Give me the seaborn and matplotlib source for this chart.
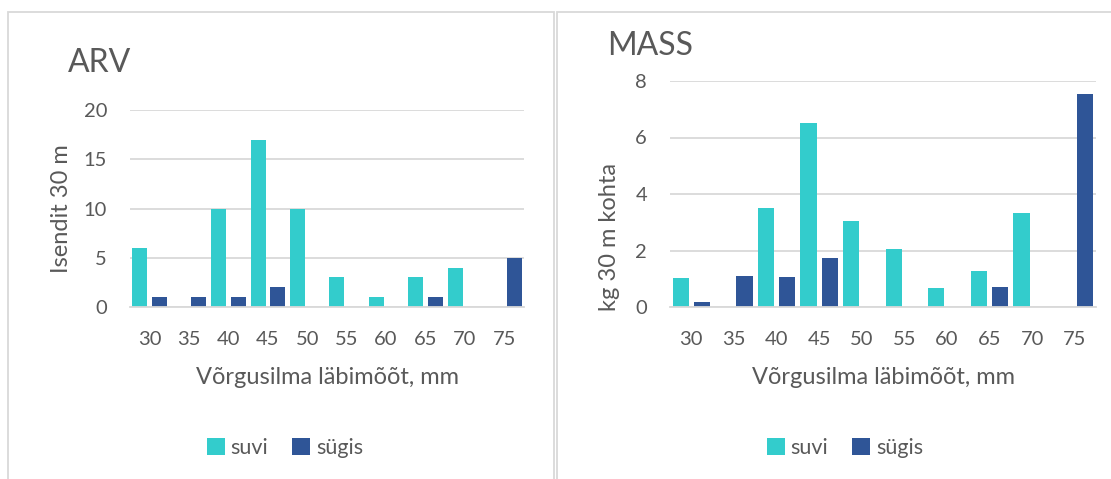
import matplotlib
matplotlib.use("Agg")
import matplotlib.pyplot as plt
from matplotlib.patches import Rectangle
import seaborn as sns
import pandas as pd

# ---- data ----
sizes = ["30", "35", "40", "45", "50", "55", "60", "65", "70", "75"]
seasons = ["suvi", "sügis"]
arv_suvi = [6, 0, 10, 17, 10, 3, 1, 3, 4, 0]
arv_sygis = [1, 1, 1, 2, 0, 0, 0, 1, 0, 5]
mass_suvi = [1.03, 0, 3.52, 6.51, 3.06, 2.07, 0.67, 1.29, 3.32, 0]
mass_sygis = [0.17, 1.10, 1.05, 1.75, 0, 0, 0, 0.72, 0, 7.54]

title_arv = "ARV"
title_mass = "MASS"
ylabel_arv = "Isendit 30 m"
ylabel_mass = "kg 30 m kohta"
xlabel = "Võrgusilma läbimõõt, mm"

colors = ["#33CCCC", "#2F5597"]
text_col = "#595959"
grid_col = "#D9D9D9"

sns.set_theme(style="white")
plt.rcParams["font.family"] = ["Lato", "DejaVu Sans"]
plt.rcParams["text.color"] = text_col
plt.rcParams["axes.labelcolor"] = text_col
plt.rcParams["xtick.color"] = text_col
plt.rcParams["ytick.color"] = text_col


def long_df(suvi, sygis):
    rows = []
    for s, a, b in zip(sizes, suvi, sygis):
        rows.append({"mm": s, "season": seasons[0], "value": a})
        rows.append({"mm": s, "season": seasons[1], "value": b})
    return pd.DataFrame(rows)


W, H = 1111, 479
fig = plt.figure(figsize=(W / 100, H / 100), dpi=100)

# panel borders
fig.add_artist(Rectangle((8 / W, -0.1), (554 - 8) / W, 1.1 - 12 / H,
                         transform=fig.transFigure, fill=False,
                         edgecolor=grid_col, linewidth=1.3))
fig.add_artist(Rectangle((557 / W, -0.1), 0.6, 1.1 - 12 / H,
                         transform=fig.transFigure, fill=False,
                         edgecolor=grid_col, linewidth=1.3))


def px_axes(x0, x1, ytop, ybot):
    return fig.add_axes([x0 / W, (H - ybot) / H, (x1 - x0) / W, (ybot - ytop) / H])


panels = [
    dict(ax=px_axes(130, 524, 110, 307), suvi=arv_suvi, sygis=arv_sygis,
         ymax=20, yticks=[0, 5, 10, 15, 20], ylabel=ylabel_arv,
         ylab_pos=(-0.175, 0.497), title=title_arv, title_xy=(68, 63),
         leg_x=285),
    dict(ax=px_axes(670, 1096, 81, 307), suvi=mass_suvi, sygis=mass_sygis,
         ymax=8, yticks=[0, 2, 4, 6, 8], ylabel=ylabel_mass,
         ylab_pos=(-0.143, 0.31), title=title_mass, title_xy=(607, 46),
         leg_x=845),
]

for p in panels:
    ax = p["ax"]
    df = long_df(p["suvi"], p["sygis"])
    sns.barplot(data=df, x="mm", y="value", hue="season", order=sizes,
                hue_order=seasons, palette=colors, saturation=1,
                width=1.0, gap=0.24, errorbar=None, linewidth=0, ax=ax)
    ax.set_ylim(0, p["ymax"])
    ax.set_xlim(-0.5, len(sizes) - 0.5)
    ax.set_yticks(p["yticks"])
    ax.yaxis.grid(True, color=grid_col, linewidth=1.3)
    ax.set_axisbelow(True)
    for side in ["left", "right", "top"]:
        ax.spines[side].set_visible(False)
    ax.spines["bottom"].set_color(grid_col)
    ax.spines["bottom"].set_linewidth(1.3)
    ax.tick_params(axis="both", length=0, labelsize=14.5)
    ax.tick_params(axis="y", pad=16.5)
    ax.tick_params(axis="x", pad=17)
    ax.set_xlabel(xlabel, fontsize=17, va="center")
    ax.xaxis.set_label_coords(0.5, (307 - 377) / (307 - (110 if p["ymax"] == 20 else 81)))
    ax.set_ylabel(p["ylabel"], fontsize=17, va="center")
    ax.yaxis.set_label_coords(*p["ylab_pos"])
    fig.text(p["title_xy"][0] / W, 1 - p["title_xy"][1] / H, p["title"],
             fontsize=23, ha="left", va="center", color=text_col)
    sns.move_legend(ax, loc="center",
                    bbox_to_anchor=(p["leg_x"] / W, 1 - 448 / H),
                    bbox_transform=fig.transFigure, ncol=2, frameon=False,
                    title=None, fontsize=15.5, handlelength=0.85,
                    handleheight=0.85, handletextpad=0.25, columnspacing=1.1)
    for t in ax.get_legend().get_texts():
        t.set_color(text_col)

fig.savefig("out.png", dpi=100)
